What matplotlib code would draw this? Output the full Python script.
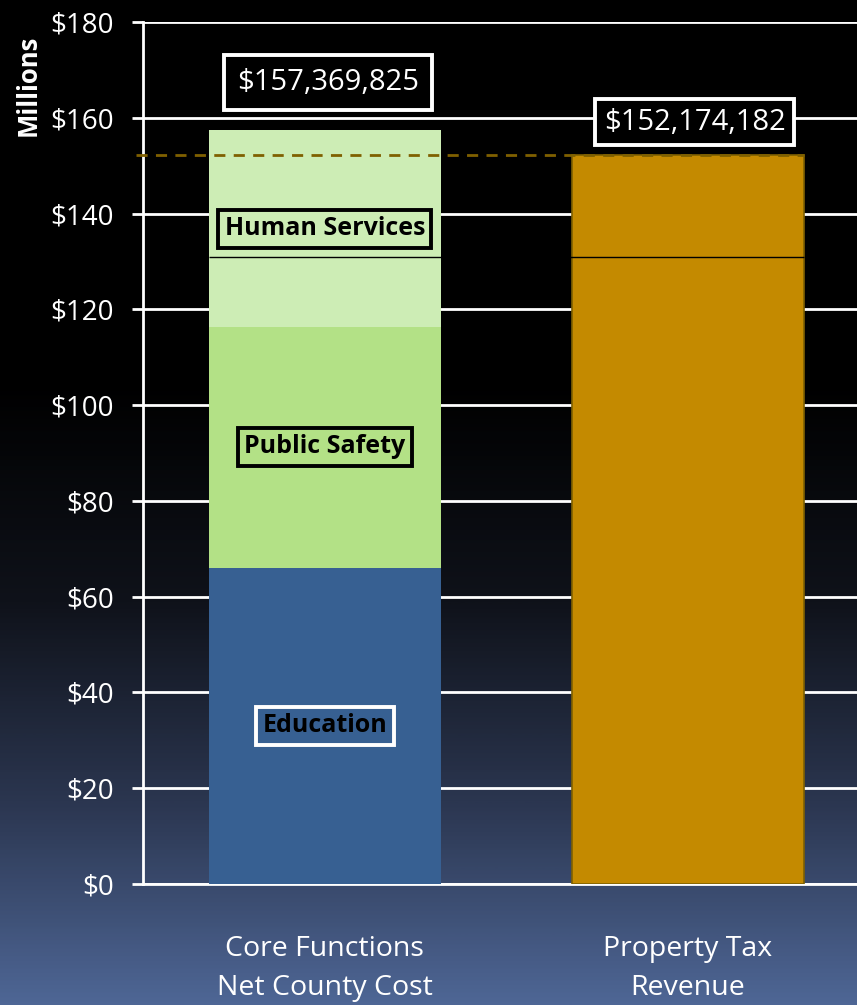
import matplotlib
matplotlib.use("Agg")
import matplotlib.pyplot as plt
import numpy as np
from matplotlib.colors import LinearSegmentedColormap

plt.rcParams["font.family"] = ["Open Sans", "Noto Sans", "DejaVu Sans"]

# Data (millions)
categories = ["Core Functions\nNet County Cost", "Property Tax\nRevenue"]
segments = ["Education", "Public Safety", "Human Services"]
core_values = [66.0, 50.4, 40.97]
core_total = 157.369825
tax_total = 152.174182
total_labels = ["$157,369,825", "$152,174,182"]
break_line = 131.0
yticks = [0, 20, 40, 60, 80, 100, 120, 140, 160, 180]

seg_colors = ["#376092", "#b3e186", "#cdedb5"]
seg_boxes = ["white", "black", "black"]
tax_color = "#c48a00"
tax_edge = "#7f6000"

fig = plt.figure(figsize=(8.57, 10.05), dpi=100)

# background gradient
bg = fig.add_axes([0, 0, 1, 1], zorder=-10)
cmap = LinearSegmentedColormap.from_list(
    "bg", [(0, "#000000"), (0.38, "#000000"), (0.6, "#0f121a"),
           (0.8, "#2b3650"), (1.0, "#4e6695")])
grad = np.linspace(0, 1, 500).reshape(-1, 1)
bg.imshow(grad, aspect="auto", cmap=cmap, extent=[0, 1, 1, 0])
bg.set_axis_off()

ax = fig.add_axes([0.1669, 0.1204, 0.8331, 0.8577])
ax.patch.set_alpha(0)
x = np.arange(len(categories))
w = 0.64

bottom = 0
for v, c in zip(core_values, seg_colors):
    ax.bar(x[0], v, w, bottom=bottom, color=c, zorder=3)
    bottom += v
ax.bar(x[1], tax_total, w, color=tax_color, edgecolor=tax_edge, linewidth=1.2, zorder=3)

# reference lines
ax.hlines(tax_total, -0.52, x[1] + w / 2, colors=tax_edge, linestyles=(0, (4, 3)),
          linewidth=2, zorder=4, clip_on=False)
ax.hlines(break_line, x[0] - w / 2, x[1] + w / 2, colors="black", linewidth=1, zorder=4)

# segment labels
seg_y = [33.0, 91.3, 136.8]
for name, yy, ec in zip(segments, seg_y, seg_boxes):
    ax.text(x[0], yy, name, ha="center", va="center", fontsize=18, fontweight="bold",
            color="black", zorder=5,
            bbox=dict(boxstyle="square,pad=0.25", fc="none", ec=ec, lw=2.8))

# total labels
tot_y = [167.3, 159.1]
tot_dx = [0.008, 0.019]
tot_pad = [0.45, 0.3]
for xi, yy, lab, dx, p in zip(x, tot_y, total_labels, tot_dx, tot_pad):
    ax.text(xi + dx, yy, lab, ha="center", va="center",
            fontsize=21, color="white", zorder=5,
            bbox=dict(boxstyle="square,pad=%.2f" % p, fc="black", ec="white", lw=2.8))

ax.set_xlim(-0.501, 1.466)
ax.set_ylim(0, 180)
ax.set_yticks(yticks)
ax.set_yticklabels(["$%d" % t for t in yticks])
ax.yaxis.grid(True, color="white", linewidth=2, zorder=0)
ax.set_axisbelow(True)
ax.tick_params(axis="y", colors="white", labelsize=20, length=8, width=2, pad=13,
               direction="out")
for lab in ax.get_yticklabels():
    lab.set_color("white")
ax.set_xticks(x)
ax.set_xticklabels(categories, color="white", fontsize=20.5, linespacing=1.5)
ax.tick_params(axis="x", length=0, pad=37)

for s in ["top", "right"]:
    ax.spines[s].set_visible(False)
for s in ["left", "bottom"]:
    ax.spines[s].set_color("white")
    ax.spines[s].set_linewidth(2)

fig.text(0.033, 0.915, "Millions", rotation=90, color="white", fontsize=18.5,
         fontweight="bold", ha="center", va="center")

fig.savefig("out.png", dpi=100)
